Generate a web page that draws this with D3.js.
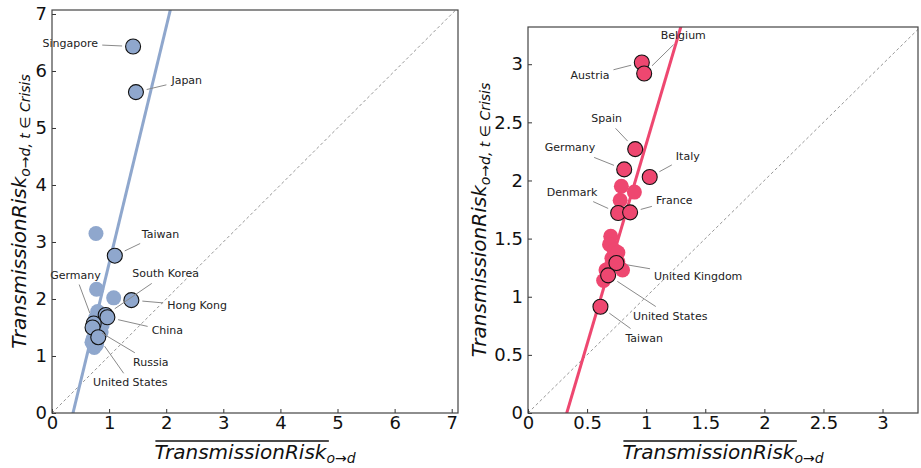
<!DOCTYPE html>
<html>
<head>
<meta charset="utf-8">
<script src="https://cdn.jsdelivr.net/npm/d3@7"></script>
<style>
  body { margin: 0; background: #fff; }
  text { font-family: "DejaVu Sans", sans-serif; }
</style>
</head>
<body>
<script>
// ---- data ----
// left panel (Asia-ish set), blue
const leftNames = ['Singapore', 'Japan', 'Taiwan', 'Hong Kong', 'South Korea', 'China', 'Germany', 'Russia', 'United States'];
const leftX = [1.42, 1.47, 1.10, 1.39, 0.94, 0.97, 0.73, 0.71, 0.81];
const leftY = [6.43, 5.63, 2.76, 1.98, 1.72, 1.68, 1.57, 1.50, 1.33];
const leftLabelX = [0.32, 2.36, 1.90, 2.54, 1.99, 2.02, 0.41, 1.73, 1.37];
const leftLabelY = [6.48, 5.84, 3.14, 1.88, 2.44, 1.44, 2.42, 0.89, 0.53];
const leftOtherX = [0.77, 0.78, 1.08, 0.80, 0.84, 0.76, 0.86, 0.83, 0.70, 0.74, 0.78, 0.72, 0.88];
const leftOtherY = [3.15, 2.17, 2.02, 1.78, 1.68, 1.66, 1.42, 1.38, 1.24, 1.15, 1.20, 1.30, 1.55];
const leftFit = { slope: 4.15, intercept: -1.527 };

// right panel (Europe-ish set), pink
const rightNames = ['Austria', 'Belgium', 'Spain', 'Germany', 'Italy', 'Denmark', 'France', 'United Kingdom', 'United States', 'Taiwan'];
const rightX = [0.963, 0.983, 0.907, 0.814, 1.03, 0.763, 0.864, 0.748, 0.678, 0.613];
const rightY = [3.015, 2.92, 2.27, 2.095, 2.03, 1.72, 1.726, 1.29, 1.184, 0.914];
const rightLabelX = [0.525, 1.314, 0.665, 0.356, 1.352, 0.373, 1.237, 1.44, 1.203, 0.983];
const rightLabelY = [2.90, 3.25, 2.53, 2.28, 2.21, 1.90, 1.83, 1.17, 0.834, 0.645];
const rightOtherX = [0.79, 0.78, 0.90, 0.70, 0.69, 0.73, 0.76, 0.71, 0.66, 0.80, 0.64, 0.70, 0.76];
const rightOtherY = [1.95, 1.83, 1.90, 1.52, 1.45, 1.40, 1.38, 1.33, 1.23, 1.23, 1.14, 1.26, 1.30];
const rightFit = { slope: 3.44, intercept: -1.128 };

const leftTicks = [0, 1, 2, 3, 4, 5, 6, 7];
const rightTicks = [0, 0.5, 1, 1.5, 2, 2.5, 3];

const W = 921, H = 468;
const svg = d3.select('body').append('svg')
  .attr('width', W)
  .attr('height', H);

function drawPanel(cfg) {
  const xScale = d3.scaleLinear().domain(cfg.xDomain).range([cfg.left, cfg.right]);
  const yScale = d3.scaleLinear().domain(cfg.yDomain).range([cfg.bottom, cfg.top]);
  const g = svg.append('g');

  const clipId = 'clip-' + cfg.id;
  svg.append('clipPath').attr('id', clipId)
    .append('rect')
    .attr('x', cfg.left).attr('y', cfg.top)
    .attr('width', cfg.right - cfg.left).attr('height', cfg.bottom - cfg.top);

  const plot = g.append('g').attr('clip-path', 'url(#' + clipId + ')');

  // y = x reference line
  const dmax = Math.max(cfg.xDomain[1], cfg.yDomain[1]);
  plot.append('line')
    .attr('x1', xScale(0)).attr('y1', yScale(0))
    .attr('x2', xScale(dmax)).attr('y2', yScale(dmax))
    .attr('stroke', '#8a8a8a')
    .attr('stroke-width', 0.9)
    .attr('stroke-dasharray', '3,2.5');

  // fitted line
  const xs = [cfg.xDomain[0], cfg.xDomain[1]];
  plot.append('path')
    .datum(xs)
    .attr('d', d3.line()
      .x(d => xScale(d))
      .y(d => yScale(cfg.fit.slope * d + cfg.fit.intercept)))
    .attr('stroke', cfg.color)
    .attr('stroke-width', 3)
    .attr('fill', 'none');

  // unlabeled points
  plot.selectAll('.other')
    .data(d3.range(cfg.otherX.length))
    .enter().append('circle')
    .attr('cx', i => xScale(cfg.otherX[i]))
    .attr('cy', i => yScale(cfg.otherY[i]))
    .attr('r', 7.5)
    .attr('fill', cfg.color);

  // labels + leader lines
  const labels = d3.range(cfg.names.length);
  const txt = g.selectAll('.lab')
    .data(labels)
    .enter().append('text')
    .attr('x', i => xScale(cfg.labelX[i]))
    .attr('y', i => yScale(cfg.labelY[i]))
    .attr('text-anchor', 'middle')
    .attr('dominant-baseline', 'central')
    .style('font-size', '11px')
    .attr('fill', '#222')
    .text(i => cfg.names[i]);

  txt.each(function (i) {
    const bb = this.getBBox();
    const px = xScale(cfg.x[i]), py = yScale(cfg.y[i]);
    const cx = bb.x + bb.width / 2, cy = bb.y + bb.height / 2;
    const dx = px - cx, dy = py - cy;
    // point where the segment leaves the (padded) text box
    const hw = bb.width / 2 + 4, hh = bb.height / 2 + 3;
    const t = Math.min(Math.abs(dx) > 0 ? hw / Math.abs(dx) : Infinity,
                       Math.abs(dy) > 0 ? hh / Math.abs(dy) : Infinity);
    const sx = cx + dx * t, sy = cy + dy * t;
    const len = Math.hypot(px - sx, py - sy);
    const shrink = 11;
    const ex = px - (px - sx) / len * shrink, ey = py - (py - sy) / len * shrink;
    g.insert('line', 'text')
      .attr('x1', sx).attr('y1', sy)
      .attr('x2', ex).attr('y2', ey)
      .attr('stroke', '#8a8a8a')
      .attr('stroke-width', 1);
  });

  // labeled points, outlined
  plot.selectAll('.lbl')
    .data(labels)
    .enter().append('circle')
    .attr('cx', i => xScale(cfg.x[i]))
    .attr('cy', i => yScale(cfg.y[i]))
    .attr('r', 7.5)
    .attr('fill', cfg.color)
    .attr('stroke', '#111')
    .attr('stroke-width', 1.1);

  // axes with inward ticks
  const xAxis = d3.axisBottom(xScale).tickValues(cfg.ticks).tickFormat(d => String(d))
    .tickSizeInner(-4).tickSizeOuter(0).tickPadding(3);
  const yAxis = d3.axisLeft(yScale).tickValues(cfg.yTicks).tickFormat(d => String(d))
    .tickSizeInner(-4).tickSizeOuter(0).tickPadding(5);

  const gx = g.append('g').attr('transform', 'translate(0,' + cfg.bottom + ')').call(xAxis);
  const gy = g.append('g').attr('transform', 'translate(' + cfg.left + ',0)').call(yAxis);
  [gx, gy].forEach(a => {
    a.select('.domain').remove();
    a.selectAll('.tick line').attr('stroke', '#333');
    a.selectAll('.tick text')
      .style('font-family', '"DejaVu Sans", sans-serif')
      .style('font-size', '18px')
      .attr('fill', '#111');
  });

  // frame
  g.append('rect')
    .attr('x', cfg.left).attr('y', cfg.top)
    .attr('width', cfg.right - cfg.left).attr('height', cfg.bottom - cfg.top)
    .attr('fill', 'none')
    .attr('stroke', '#444')
    .attr('stroke-width', 1.2);

  // x label with overline
  const xl = g.append('text')
    .attr('x', (cfg.left + cfg.right) / 2)
    .attr('y', 459)
    .attr('text-anchor', 'middle')
    .style('font-style', 'italic')
    .style('font-size', '20px')
    .attr('fill', '#111');
  const main = xl.append('tspan').text('TransmissionRisk');
  xl.append('tspan').attr('dy', 4).style('font-size', '14px').text('o→d');
  const mb = main.node().getBBox();
  g.append('line')
    .attr('x1', mb.x + 1).attr('x2', mb.x + mb.width + 1)
    .attr('y1', 441).attr('y2', 441)
    .attr('stroke', '#111').attr('stroke-width', 1.4);

  // y label
  const yl = g.append('text')
    .attr('transform', 'translate(' + cfg.ylabelX + ',' + (cfg.top + cfg.bottom) / 2 + ') rotate(-90)')
    .attr('text-anchor', 'middle')
    .style('font-style', 'italic')
    .style('font-size', '20px')
    .attr('fill', '#111');
  yl.append('tspan').text('TransmissionRisk');
  yl.append('tspan').attr('dy', 4).style('font-size', '14px').text('o→d, t ∈ Crisis');
}

drawPanel({
  id: 'left', color: '#8fa7cd',
  left: 52, right: 458, top: 10, bottom: 413,
  xDomain: [0, 7.11], yDomain: [0, 7.07],
  ticks: leftTicks, yTicks: leftTicks, ylabelX: 26,
  names: leftNames, x: leftX, y: leftY, labelX: leftLabelX, labelY: leftLabelY,
  otherX: leftOtherX, otherY: leftOtherY, fit: leftFit
});

drawPanel({
  id: 'right', color: '#ee4770',
  left: 528, right: 918, top: 27, bottom: 413,
  xDomain: [0, 3.30], yDomain: [0, 3.32],
  ticks: rightTicks, yTicks: rightTicks, ylabelX: 486,
  names: rightNames, x: rightX, y: rightY, labelX: rightLabelX, labelY: rightLabelY,
  otherX: rightOtherX, otherY: rightOtherY, fit: rightFit
});
</script>
</body>
</html>
